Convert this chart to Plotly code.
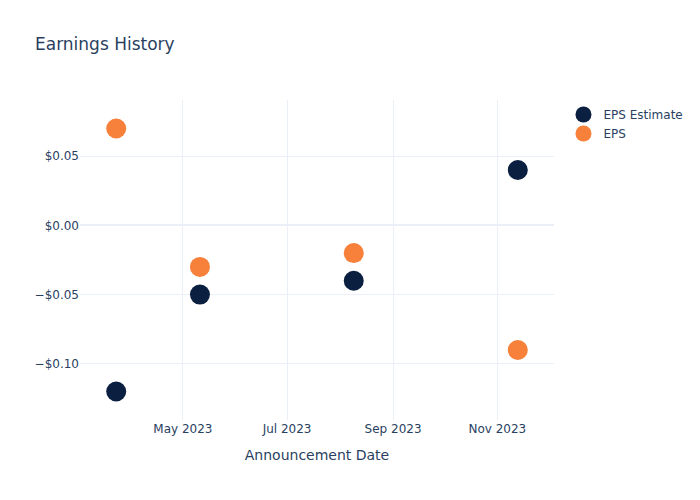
import plotly.graph_objects as go

dates = ["2023-03-23", "2023-05-11", "2023-08-09", "2023-11-13"]
eps_estimate = [-0.12, -0.05, -0.04, 0.04]
eps_actual = [0.07, -0.03, -0.02, -0.09]

fig = go.Figure()
fig.add_trace(go.Scatter(x=dates, y=eps_estimate, mode="markers", name="EPS Estimate",
                         marker=dict(size=20, color="#0b1f40")))
fig.add_trace(go.Scatter(x=dates, y=eps_actual, mode="markers", name="EPS",
                         marker=dict(size=20, color="#f7803a")))
fig.update_layout(
    template="plotly_white",
    width=700, height=500,
    font=dict(family="DejaVu Sans"),
    title=dict(text="Earnings History"),
    xaxis=dict(title=dict(text="Announcement Date")),
    yaxis=dict(tickformat="$.2f"),
)
fig.write_html("out.html", config={"displayModeBar": False},
               post_script="document.body.style.margin='0';")
